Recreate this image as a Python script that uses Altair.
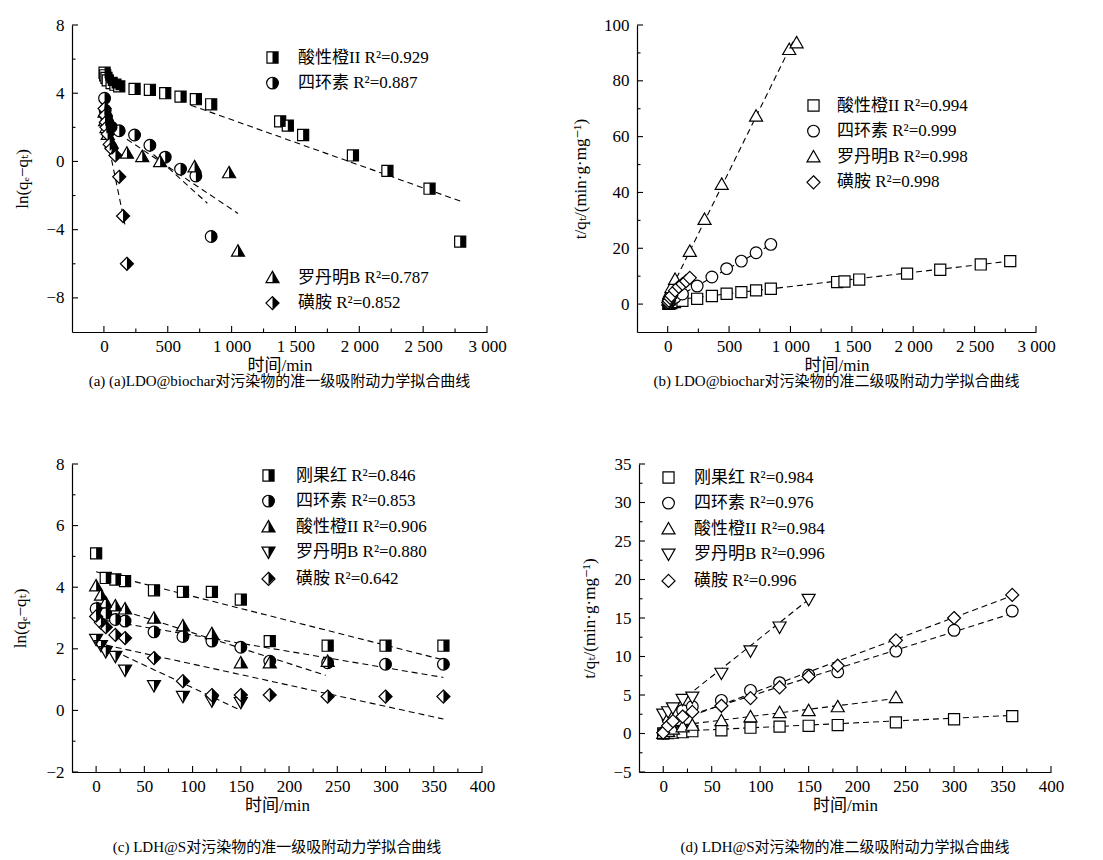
import altair as alt
import pandas as pd

FONT = "Liberation Serif, Noto Sans CJK SC, DejaVu Serif, DejaVu Sans"

# ---------------- data: panel (a) ln(qe-qt) vs t, LDO@biochar ----------------
A_AO_T = [5, 10, 20, 30, 60, 90, 120, 240, 360, 480, 600, 720, 840, 1380, 1440, 1560, 1950, 2220, 2550, 2790]
A_AO_V = [5.2, 5.05, 4.9, 4.75, 4.6, 4.5, 4.4, 4.25, 4.2, 4.0, 3.8, 3.65, 3.35, 2.35, 2.1, 1.55, 0.35, -0.55, -1.6, -4.7]
A_TC_T = [5, 10, 20, 30, 60, 120, 240, 360, 480, 600, 720, 840]
A_TC_V = [3.7, 3.0, 2.6, 2.3, 2.0, 1.8, 1.55, 0.95, 0.25, -0.45, -0.85, -4.4]
A_RB_T = [5, 10, 20, 30, 60, 180, 300, 440, 710, 980, 1050]
A_RB_V = [2.9, 2.4, 2.0, 1.6, 1.1, 0.5, 0.3, 0.0, -0.3, -0.65, -5.25]
A_SA_T = [5, 10, 15, 20, 30, 45, 60, 90, 120, 150, 180]
A_SA_V = [3.1, 2.7, 2.3, 2.0, 1.6, 1.0, 0.75, 0.35, -0.9, -3.2, -6.0]
A_FIT = {"AO": [(680, 3.3), (2800, -2.35)], "TC": [(330, 0.8), (810, -2.45)],
         "RB": [(180, 1.3), (1050, -3.05)], "SA": [(60, 0.1), (170, -3.9)]}

# ---------------- panel (b) t/qt vs t, LDO@biochar ----------------
B_AO_T = [5, 10, 20, 30, 60, 120, 240, 360, 480, 600, 720, 840, 1380, 1440, 1560, 1950, 2220, 2550, 2790]
B_AO_V = [0.05, 0.1, 0.25, 0.35, 0.7, 1.2, 1.9, 2.9, 3.7, 4.3, 4.9, 5.5, 7.9, 8.1, 8.8, 10.9, 12.3, 14.2, 15.4]
B_TC_T = [5, 10, 20, 30, 60, 120, 240, 360, 480, 600, 720, 840]
B_TC_V = [0.3, 0.6, 1.0, 1.5, 2.4, 3.6, 6.45, 9.7, 12.7, 15.4, 18.4, 21.4]
B_RB_T = [5, 10, 20, 30, 60, 180, 300, 440, 720, 990, 1050]
B_RB_V = [1.5, 3.0, 4.5, 6.0, 8.9, 19.0, 30.4, 43.0, 67.4, 91.3, 93.7]
B_SA_T = [5, 10, 20, 30, 60, 90, 120, 150, 180]
B_SA_V = [0.6, 1.2, 2.2, 3.0, 4.8, 6.2, 7.2, 8.2, 9.4]
B_FIT = {"AO": [(0, 1.2), (2790, 15.4)], "TC": [(0, 0.66), (845, 21.4)],
         "RB": [(0, 2.9), (1020, 94.0)], "SA": [(0, 0.3), (180, 9.5)]}

# ---------------- panel (c) ln(qe-qt) vs t, LDH@S ----------------
C_CR_T = [0, 10, 20, 30, 60, 90, 120, 150, 180, 240, 300, 360]
C_CR_V = [5.1, 4.3, 4.25, 4.2, 3.9, 3.85, 3.85, 3.6, 2.25, 2.1, 2.1, 2.1]
C_TC_T = [0, 10, 20, 30, 60, 90, 120, 150, 180, 240, 300, 360]
C_TC_V = [3.3, 3.15, 2.95, 2.9, 2.55, 2.4, 2.25, 2.05, 1.6, 1.55, 1.5, 1.5]
C_AO_T = [0, 5, 10, 20, 30, 60, 90, 120, 150, 180, 240]
C_AO_V = [4.05, 3.75, 3.5, 3.4, 3.3, 3.0, 2.75, 2.5, 1.55, 1.55, 1.6]
C_RB_T = [0, 5, 10, 20, 30, 60, 90, 120, 150]
C_RB_V = [2.3, 2.1, 1.9, 1.75, 1.3, 0.8, 0.45, 0.3, 0.25]
C_SA_T = [0, 5, 10, 20, 30, 60, 90, 120, 150, 180, 240, 300, 360]
C_SA_V = [3.05, 2.85, 2.7, 2.45, 2.35, 1.7, 0.95, 0.5, 0.5, 0.5, 0.45, 0.45, 0.45]
C_FIT = {"CR": [(0, 4.5), (360, 1.64)], "TC": [(0, 2.97), (360, 1.07)], "AO": [(0, 3.52), (238, 1.14)],
         "RB": [(0, 2.2), (150, 0.0)], "SA": [(0, 2.19), (360, -0.28)]}

# ---------------- panel (d) t/qt vs t, LDH@S ----------------
D_CR_T = [0, 5, 10, 20, 30, 60, 90, 120, 150, 180, 240, 300, 360]
D_CR_V = [0.0, 0.05, 0.1, 0.17, 0.3, 0.4, 0.75, 0.9, 1.0, 1.1, 1.45, 1.85, 2.25]
D_TC_T = [0, 5, 10, 20, 30, 60, 90, 120, 150, 180, 240, 300, 360]
D_TC_V = [0.1, 1.8, 2.6, 3.0, 3.5, 4.3, 5.6, 6.6, 7.6, 8.0, 10.7, 13.4, 15.9]
D_AO_T = [0, 5, 10, 20, 30, 60, 90, 120, 150, 180, 240]
D_AO_V = [0.05, 0.3, 0.6, 0.9, 1.1, 1.7, 2.2, 2.75, 3.0, 3.5, 4.7]
D_RB_T = [0, 5, 10, 20, 30, 60, 90, 120, 150]
D_RB_V = [2.5, 2.8, 3.3, 4.4, 4.7, 7.8, 10.7, 13.8, 17.4]
D_SA_T = [0, 5, 10, 20, 30, 60, 90, 120, 150, 180, 240, 300, 360]
D_SA_V = [0.1, 1.0, 1.6, 2.2, 2.8, 3.6, 4.6, 6.0, 7.4, 8.8, 12.1, 15.0, 18.0]
D_FIT = {"CR": [(0, 0.2), (360, 2.35)], "TC": [(0, 1.3), (360, 15.6)], "AO": [(0, 0.8), (240, 4.55)],
         "RB": [(0, 2.4), (153, 17.7)], "SA": [(0, 0.9), (360, 17.9)]}

# legend labels
A_LAB = {"AO": "酸性橙II  R²=0.929", "TC": "四环素 R²=0.887", "RB": "罗丹明B R²=0.787", "SA": "磺胺 R²=0.852"}
B_LAB = {"AO": "酸性橙II  R²=0.994", "TC": "四环素 R²=0.999", "RB": "罗丹明B R²=0.998", "SA": "磺胺 R²=0.998"}
C_LAB = {"CR": "刚果红 R²=0.846", "TC": "四环素 R²=0.853", "AO": "酸性橙II R²=0.906", "RB": "罗丹明B R²=0.880", "SA": "磺胺 R²=0.642"}
D_LAB = {"CR": "刚果红 R²=0.984", "TC": "四环素 R²=0.976", "AO": "酸性橙II R²=0.984", "RB": "罗丹明B R²=0.996", "SA": "磺胺 R²=0.996"}

# marker shapes (full outline and right-half fill)
SQ = ("M-0.85,-0.85H0.85V0.85H-0.85Z", "M0,-0.85H0.85V0.85H0Z")
CI = ("M0.9,0A0.9,0.9 0 1,1 -0.9,0A0.9,0.9 0 1,1 0.9,0Z", "M0,-0.9A0.9,0.9 0 0,1 0,0.9Z")
TU = ("M0,-0.95L1,0.8H-1Z", "M0,-0.95L1,0.8H0Z")
TD = ("M-1,-0.8H1L0,0.95Z", "M0,-0.8H1L0,0.95Z")
DI = ("M0,-1L1,0L0,1L-1,0Z", "M0,-1L1,0L0,1Z")

MSIZE = 170


def pts_df(keys, data, labels):
    rows = []
    for k in keys:
        t, v = data[k]
        for a, b in zip(t, v):
            rows.append({"label": labels[k], "t": a, "v": b})
    return pd.DataFrame(rows)


def fit_df(fits, labels):
    rows = []
    for k, seg in fits.items():
        for a, b in seg:
            rows.append({"label": labels[k], "t": a, "v": b})
    return pd.DataFrame(rows)


def make_panel(data, shapes, labels, fits, groups, half, W, H, xdom, ydom,
               xmaj, xmin, ymaj, ymin, ytitle, caption, thousands, label_offset,
               cap_offset, ytitle_pad):
    xs = alt.Scale(domain=xdom, nice=False, zero=False)
    ys = alt.Scale(domain=ydom, nice=False, zero=False)
    xkw = dict(title="时间/min", values=xmaj, labelPadding=6, titlePadding=3,
               labelFlush=False, labelOverlap=False)
    if thousands:
        xkw["labelExpr"] = "replace(format(datum.value, ','), ',', ' ')"
    xaxis = alt.Axis(**xkw)
    yaxis = alt.Axis(title=ytitle, values=ymaj, labelPadding=8, titlePadding=ytitle_pad,
                     labelFlush=False, labelOverlap=False)

    def X(f):
        return alt.X(f + ":Q", scale=xs, axis=xaxis)

    def Y(f):
        return alt.Y(f + ":Q", scale=ys, axis=yaxis)

    layers = []
    layers.append(
        alt.Chart(fit_df(fits, labels)).mark_line(color="black", strokeWidth=1.1, strokeDash=[6, 4])
        .encode(x=X("t"), y=Y("v"), detail="label:N")
    )
    for keys, lx, ly in groups:
        df = pts_df(keys, data, labels)
        dom = [labels[k] for k in keys]
        n = len(keys)
        common_leg = dict(orient="none", legendX=lx, legendY=ly, title=None, symbolSize=MSIZE,
                          labelFont=FONT, labelFontSize=17, labelOffset=label_offset,
                          rowPadding=7.6, padding=0, symbolOpacity=1, labelLimit=400)
        leg_out = alt.Legend(symbolStrokeWidth=1.2, labelColor="black", **common_leg)
        layers.append(
            alt.Chart(df).mark_point(filled=True, strokeWidth=1.2, size=MSIZE, opacity=1)
            .encode(x=X("t"), y=Y("v"),
                    shape=alt.Shape("label:N", scale=alt.Scale(domain=dom, range=[shapes[k][0] for k in keys]),
                                    legend=leg_out),
                    fill=alt.Fill("label:N", scale=alt.Scale(domain=dom, range=["white"] * n), legend=leg_out),
                    stroke=alt.Stroke("label:N", scale=alt.Scale(domain=dom, range=["black"] * n), legend=leg_out))
        )
        if half:
            layers.append(
                alt.Chart(df).mark_point(filled=True, fill="black", strokeWidth=0, size=MSIZE, opacity=1)
                .encode(x=X("t"), y=Y("v"),
                        shape=alt.Shape("label:N", scale=alt.Scale(domain=dom, range=[shapes[k][1] for k in keys]),
                                        legend=alt.Legend(symbolFillColor="black", symbolStrokeWidth=0,
                                                          labelOpacity=0, **common_leg)))
            )
    # inward ticks
    for vals, ln in ((xmaj, 6), (xmin, 3.5)):
        layers.append(alt.Chart(pd.DataFrame({"xt": vals})).mark_rule(color="black", strokeWidth=1.1)
                      .encode(x=X("xt"), y=alt.value(H), y2=alt.value(H - ln)))
    for vals, ln in ((ymaj, 6), (ymin, 3.5)):
        layers.append(alt.Chart(pd.DataFrame({"yt": vals})).mark_rule(color="black", strokeWidth=1.1)
                      .encode(y=Y("yt"), x=alt.value(0), x2=alt.value(ln)))

    return (alt.layer(*layers)
            .resolve_scale(shape="independent", fill="independent", stroke="independent")
            .resolve_legend(shape="independent", fill="independent", stroke="independent")
            .properties(width=W, height=H,
                        title=alt.TitleParams(text=caption, orient="bottom", font=FONT, fontSize=15,
                                              fontWeight="normal", color="black", offset=cap_offset,
                                              anchor="middle")))


SH4 = {"AO": SQ, "TC": CI, "RB": TU, "SA": DI}
SH5 = {"CR": SQ, "TC": CI, "AO": TU, "RB": TD, "SA": DI}

pa = make_panel({"AO": (A_AO_T, A_AO_V), "TC": (A_TC_T, A_TC_V), "RB": (A_RB_T, A_RB_V), "SA": (A_SA_T, A_SA_V)},
                SH4, A_LAB, A_FIT, [(["AO", "TC"], 192, 24), (["RB", "SA"], 192, 244)], True,
                415, 307, [-250, 3000], [-10, 8], [0, 500, 1000, 1500, 2000, 2500, 3000],
                [250, 750, 1250, 1750, 2250, 2750], [-8, -4, 0, 4, 8], [-6, -2, 2, 6],
                "ln(qₑ−qₜ)", "(a) (a)LDO@biochar对污染物的准一级吸附动力学拟合曲线", True, 17, 1, 14)

pb = make_panel({"AO": (B_AO_T, B_AO_V), "TC": (B_TC_T, B_TC_V), "RB": (B_RB_T, B_RB_V), "SA": (B_SA_T, B_SA_V)},
                SH4, B_LAB, B_FIT, [(["AO", "TC", "RB", "SA"], 168, 72)], False,
                399, 307, [-250, 3000], [-10, 100], [0, 500, 1000, 1500, 2000, 2500, 3000],
                [250, 750, 1250, 1750, 2250, 2750], [0, 20, 40, 60, 80, 100], [10, 30, 50, 70, 90],
                "t/qₜ/(min·g·mg⁻¹)", "(b) LDO@biochar对污染物的准二级吸附动力学拟合曲线", True, 15, 1, 14)

pc = make_panel({"CR": (C_CR_T, C_CR_V), "TC": (C_TC_T, C_TC_V), "AO": (C_AO_T, C_AO_V),
                 "RB": (C_RB_T, C_RB_V), "SA": (C_SA_T, C_SA_V)},
                SH5, C_LAB, C_FIT, [(["CR", "TC", "AO", "RB", "SA"], 188, 3)], True,
                410, 308, [-25, 400], [-2, 8], [0, 50, 100, 150, 200, 250, 300, 350, 400],
                [25, 75, 125, 175, 225, 275, 325, 375], [-2, 0, 2, 4, 6, 8], [-1, 1, 3, 5, 7],
                "ln(qₑ−qₜ)", "(c) LDH@S对污染物的准一级吸附动力学拟合曲线", False, 19, 27, 16)

pd_ = make_panel({"CR": (D_CR_T, D_CR_V), "TC": (D_TC_T, D_TC_V), "AO": (D_AO_T, D_AO_V),
                  "RB": (D_RB_T, D_RB_V), "SA": (D_SA_T, D_SA_V)},
                 SH5, D_LAB, D_FIT, [(["CR", "TC", "AO", "RB", "SA"], 21, 5)], False,
                 412, 308, [-25, 400], [-5, 35], [0, 50, 100, 150, 200, 250, 300, 350, 400],
                 [25, 75, 125, 175, 225, 275, 325, 375], [-5, 0, 5, 10, 15, 20, 25, 30, 35],
                 [-2.5, 2.5, 7.5, 12.5, 17.5, 22.5, 27.5, 32.5],
                 "t/qₜ/(min·g·mg⁻¹)", "(d) LDH@S对污染物的准二级吸附动力学拟合曲线", False, 17, 27, 14)

RES = dict(x="independent", y="independent", shape="independent", fill="independent", stroke="independent")
LRES = dict(shape="independent", fill="independent", stroke="independent")

top = alt.hconcat(pa, pb, spacing=150, bounds="flush").resolve_scale(**RES).resolve_legend(**LRES)
bot = alt.hconcat(pc, pd_, spacing=157, bounds="flush").resolve_scale(**RES).resolve_legend(**LRES)

chart = (alt.vconcat(top, bot, spacing=66)
         .resolve_scale(**RES)
         .resolve_legend(**LRES)
         .properties(padding={"left": 11, "top": 16, "right": 5, "bottom": 5})
         .configure(font=FONT)
         .configure_view(stroke=None)
         .configure_axis(grid=False, ticks=False, domainColor="black", domainWidth=1.2,
                         labelColor="black", labelFont=FONT, labelFontSize=17,
                         titleFont=FONT, titleFontSize=17, titleFontWeight="normal", titleColor="black"))

chart.save("out.html", embed_options={"renderer": "svg", "actions": False})
